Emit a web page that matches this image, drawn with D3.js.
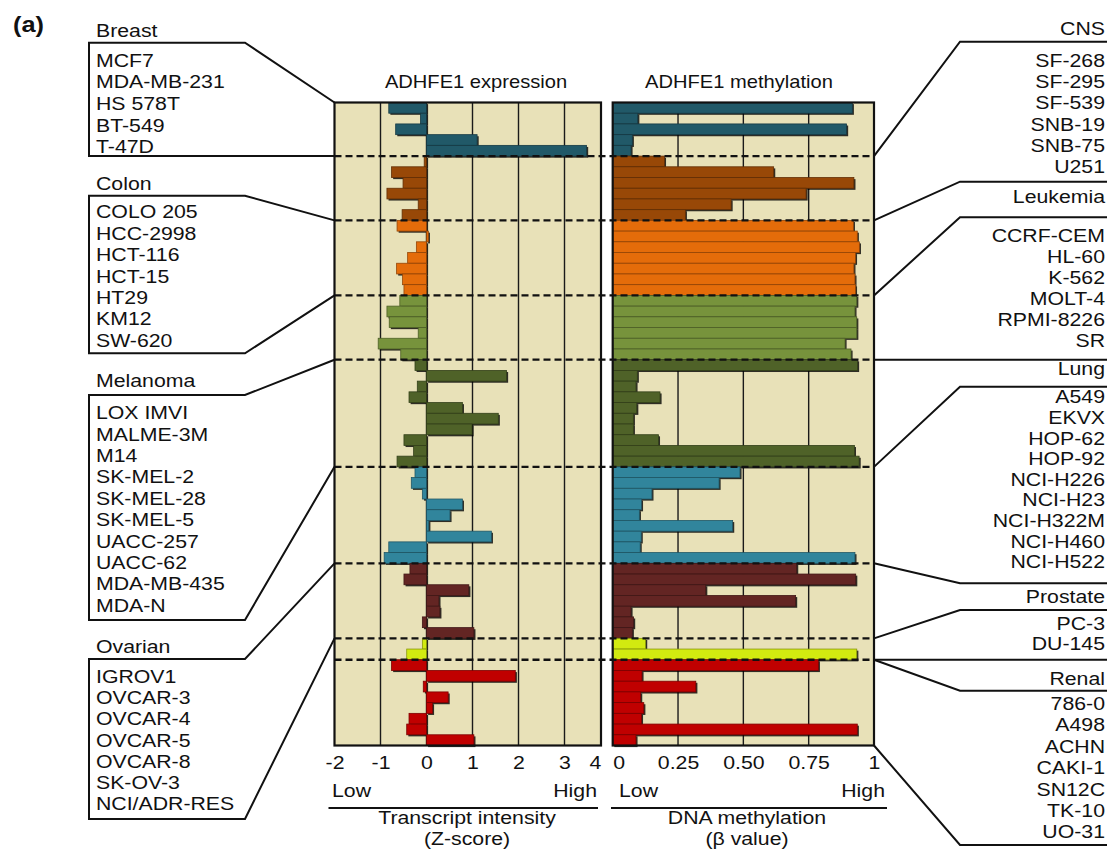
<!DOCTYPE html>
<html><head><meta charset="utf-8">
<script src="https://cdn.jsdelivr.net/npm/d3@7"></script>
<style>
body{margin:0;background:#fff}
svg{display:block}
text{font-family:"Liberation Sans",Arial,sans-serif;fill:#111}
</style>
</head><body>
<svg id="c" width="1107" height="850"></svg>
<script>
// ---------------- data ----------------
const groups = ["Breast","CNS","Colon","Leukemia","Melanoma","Lung","Ovarian","Prostate","Renal"];
const groupSizes = [5,6,7,6,10,9,7,2,8];
const cellLines = [
  "MCF7","MDA-MB-231","HS 578T","BT-549","T-47D",
  "SF-268","SF-295","SF-539","SNB-19","SNB-75","U251",
  "COLO 205","HCC-2998","HCT-116","HCT-15","HT29","KM12","SW-620",
  "CCRF-CEM","HL-60","K-562","MOLT-4","RPMI-8226","SR",
  "LOX IMVI","MALME-3M","M14","SK-MEL-2","SK-MEL-28","SK-MEL-5","UACC-257","UACC-62","MDA-MB-435","MDA-N",
  "A549","EKVX","HOP-62","HOP-92","NCI-H226","NCI-H23","NCI-H322M","NCI-H460","NCI-H522",
  "IGROV1","OVCAR-3","OVCAR-4","OVCAR-5","OVCAR-8","SK-OV-3","NCI/ADR-RES",
  "PC-3","DU-145",
  "786-0","A498","ACHN","CAKI-1","RXF 393","SN12C","TK-10","UO-31"
];
const hiddenLabels = ["RXF 393"];
const expression = [
  -0.82,-0.13,-0.67,1.10,3.48,
  -0.05,-0.76,-0.51,-0.86,-0.18,-0.53,
  -0.64,0.04,-0.22,-0.41,-0.65,-0.52,-0.49,
  -0.58,-0.86,-0.81,-0.18,-1.05,-0.56,
  -0.25,1.74,-0.20,-0.38,0.78,1.56,0.99,-0.49,-0.28,-0.64,
  -0.25,-0.33,-0.09,0.78,0.51,0.05,1.41,-0.82,-0.92,
  -0.36,-0.49,0.92,0.27,0.29,-0.09,1.03,
  -0.09,-0.43,
  -0.76,1.93,-0.07,0.47,0.13,-0.38,-0.43,1.03
];
const methylation = [
  0.917,0.096,0.895,0.075,0.070,
  0.198,0.616,0.923,0.740,0.453,0.278,
  0.921,0.936,0.944,0.929,0.923,0.927,0.929,
  0.934,0.927,0.934,0.934,0.889,0.912,
  0.937,0.094,0.089,0.181,0.092,0.079,0.079,0.175,0.925,0.943,
  0.487,0.407,0.150,0.110,0.102,0.459,0.109,0.105,0.927,
  0.704,0.930,0.356,0.700,0.070,0.080,0.075,
  0.126,0.934,
  0.787,0.112,0.318,0.107,0.119,0.110,0.936,0.089
];
const exprTicks = [-2,-1,0,1,2,3,4];
const methTicks = [0,0.25,0.5,0.75,1];
const methTickLabels = ["0","0.25","0.50","0.75","1"];

// ---------------- styles / layout ----------------
const groupColors = {Breast:"#215968",CNS:"#984807",Colon:"#e46c0a",Leukemia:"#77933c",Melanoma:"#4f6228",
  Lung:"#31859c",Ovarian:"#632523",Prostate:"#d2ea10",Renal:"#c00000"};
const PANEL_BG = "#e8e1b8";
const SX = 1.15, FS = 18.5;

const cellGroup = groups.flatMap((g,i)=>d3.range(groupSizes[i]).map(()=>g));
const rows = cellLines.map((c,i)=>({cell:c, group:cellGroup[i], e:expression[i], m:methylation[i]}));

const svg = d3.select("#c");
const y = d3.scaleBand().domain(cellLines).range([102.5,745.5]).padding(0);
const xE = d3.scaleLinear().domain([-2,4]).range([334.5,610.5]);
const xM = d3.scaleLinear().domain([0,1]).range([612.7,874]);
const E_LEFT = xE(-2), E_RIGHT = 601;
const M_LEFT = xM(0), M_RIGHT = xM(1);
const TOP = y.range()[0], BOT = y.range()[1];

// group boundaries
const starts = []; let acc = 0;
groupSizes.forEach(s=>{starts.push(acc); acc+=s;});
const gStart = {}, gEnd = {};
groups.forEach((g,i)=>{
  gStart[g] = y(cellLines[starts[i]]);
  gEnd[g] = i < groups.length-1 ? y(cellLines[starts[i+1]]) : BOT;
});

function text(x, yy, s, o={}) {
  return svg.append("text")
    .attr("transform", `translate(${x},${yy}) scale(${SX},1)`)
    .attr("text-anchor", o.anchor||"start")
    .attr("font-size", o.size||FS)
    .attr("font-weight", o.weight||"normal")
    .text(s);
}

function panel(x0, x1, xs, key, gridVals, base) {
  const g = svg.append("g");
  g.append("rect").attr("x",x0).attr("y",TOP).attr("width",x1-x0).attr("height",BOT-TOP).attr("fill",PANEL_BG);
  g.selectAll("line.grid").data(gridVals).join("line").attr("class","grid")
    .attr("x1",d=>xs(d)).attr("x2",d=>xs(d)).attr("y1",TOP).attr("y2",BOT)
    .attr("stroke","#1a1a1a").attr("stroke-width",1.4);
  const b = xs(base);
  g.selectAll("rect.sh").data(rows).join("rect").attr("class","sh")
    .attr("x",d=>Math.min(xs(d[key]),b)+1.6).attr("y",d=>y(d.cell)+1.6)
    .attr("width",d=>Math.abs(xs(d[key])-b)).attr("height",y.bandwidth())
    .attr("fill","#000").attr("opacity",0.8);
  g.selectAll("rect.bar").data(rows).join("rect").attr("class","bar")
    .attr("x",d=>Math.min(xs(d[key]),b)).attr("y",d=>y(d.cell))
    .attr("width",d=>Math.abs(xs(d[key])-b)).attr("height",y.bandwidth())
    .attr("fill",d=>groupColors[d.group])
    .attr("stroke",d=>d3.color(groupColors[d.group]).darker(1.2)).attr("stroke-width",0.8);
  return g;
}

panel(E_LEFT, E_RIGHT, xE, "e", [-1,0,1,2,3], 0);
panel(M_LEFT, M_RIGHT, xM, "m", [0.25,0.5,0.75], 0);

// dashed group separators
svg.selectAll("line.sep").data(groups.slice(1)).join("line").attr("class","sep")
  .attr("x1",E_LEFT).attr("x2",M_RIGHT).attr("y1",d=>gStart[d]).attr("y2",d=>gStart[d])
  .attr("stroke","#111").attr("stroke-width",2.3).attr("stroke-dasharray","7,4");

// panel borders
[[E_LEFT,E_RIGHT],[M_LEFT,M_RIGHT]].forEach(([a,b])=>{
  svg.append("rect").attr("x",a).attr("y",TOP).attr("width",b-a).attr("height",BOT-TOP)
    .attr("fill","none").attr("stroke","#111").attr("stroke-width",2.2);
});

// axes (tick labels only)
function axis(xs, ticks, labels, lo, hi) {
  const ax = svg.append("g").attr("transform",`translate(0,${BOT})`)
    .call(d3.axisBottom(xs).tickValues(ticks).tickSize(0).tickFormat((d,i)=>labels[i]));
  ax.select(".domain").remove();
  ax.selectAll("text")
    .attr("font-family","Liberation Sans, Arial, sans-serif").attr("font-size",FS).attr("fill","#111")
    .attr("dy",null).attr("y",769-BOT)
    .attr("transform",`scale(${SX},1)`)
    .attr("x",d=>(Math.min(Math.max(xs(d),lo),hi)-xs(d))/SX);
}
axis(xE, exprTicks, exprTicks.map(String), E_LEFT-5, E_RIGHT-6);
axis(xM, methTicks, methTickLabels, M_LEFT+6, M_RIGHT);

// titles
text(476, 88, "ADHFE1 expression", {anchor:"middle", size:17.5});
text(739, 88, "ADHFE1 methylation", {anchor:"middle", size:17.5});
text(13, 32, "(a)", {weight:"bold", size:22});

// bottom captions
text(332, 797, "Low"); text(597, 797, "High", {anchor:"end"});
text(619, 797, "Low"); text(885, 797, "High", {anchor:"end"});
svg.append("line").attr("x1",328.5).attr("x2",598).attr("y1",808).attr("y2",808).attr("stroke","#111").attr("stroke-width",2.2);
svg.append("line").attr("x1",611).attr("x2",887).attr("y1",808).attr("y2",808).attr("stroke","#111").attr("stroke-width",2.2);
text(467, 824, "Transcript intensity", {anchor:"middle"});
text(467, 845, "(Z-score)", {anchor:"middle"});
text(747, 824, "DNA methylation", {anchor:"middle"});
text(747, 845, "(\u03b2 value)", {anchor:"middle"});

// label boxes
const leftLayout = [
  {g:"Breast", head:37, top:42.7, first:66.7, step:21.65, bottom:null},
  {g:"Colon", head:190, top:195.7, first:218.3, step:21.4, bottom:353.3},
  {g:"Melanoma", head:387, top:395, first:419.1, step:21.4, bottom:620},
  {g:"Ovarian", head:653, top:659, first:683, step:21.2, bottom:819}
];
const rightLayout = [
  {g:"CNS", head:35, top:41.7, first:66.7, step:21.3, bottom:181.7},
  {g:"Leukemia", head:203.3, top:217.3, first:241.7, step:21, bottom:null},
  {g:"Lung", head:375, top:386.7, first:403.3, step:20.6, bottom:583.3},
  {g:"Prostate", head:603.3, top:610, first:630, step:20, bottom:null},
  {g:"Renal", head:685, top:690.7, first:710, step:21.4, bottom:845}
];
const namesOf = g => rows.filter(r=>r.group===g && !hiddenLabels.includes(r.cell)).map(r=>r.cell);
const LBOX = 89, LCORNER = 245, RCORNER = 960, REDGE = 1107;
const lineStyle = p => p.attr("fill","none").attr("stroke","#111").attr("stroke-width",2).attr("stroke-linejoin","miter");

leftLayout.forEach(L=>{
  text(96, L.head, L.g);
  namesOf(L.g).forEach((n,i)=>text(96, L.first+i*L.step, n));
  const p = d3.path();
  p.moveTo(E_LEFT, gStart[L.g]); p.lineTo(LCORNER, L.top); p.lineTo(LBOX, L.top);
  if (L.bottom===null) { p.lineTo(LBOX, gEnd[L.g]); p.lineTo(E_LEFT, gEnd[L.g]); }
  else { p.lineTo(LBOX, L.bottom); p.lineTo(LCORNER, L.bottom); p.lineTo(E_LEFT, gEnd[L.g]); }
  lineStyle(svg.append("path").attr("d", p.toString()));
});

rightLayout.forEach(R=>{
  text(1105, R.head, R.g, {anchor:"end"});
  namesOf(R.g).forEach((n,i)=>text(1105, R.first+i*R.step, n, {anchor:"end"}));
  const p = d3.path();
  p.moveTo(REDGE, R.top); p.lineTo(RCORNER, R.top); p.lineTo(M_RIGHT, gStart[R.g]);
  if (R.bottom===null) { p.moveTo(M_RIGHT, gEnd[R.g]); p.lineTo(REDGE, gEnd[R.g]); }
  else { p.moveTo(REDGE, R.bottom); p.lineTo(RCORNER, R.bottom); p.lineTo(M_RIGHT, gEnd[R.g]); }
  lineStyle(svg.append("path").attr("d", p.toString()));
});
</script>
</body></html>
